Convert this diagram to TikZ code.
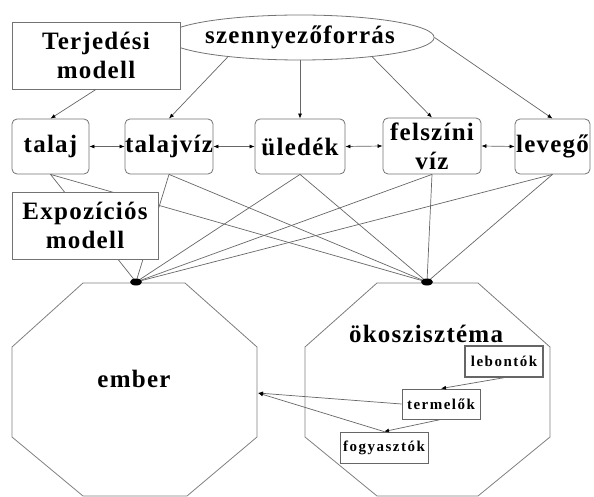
\documentclass[tikz,border=0pt]{standalone}
\usepackage{fontspec}
\setmainfont{Liberation Serif}[LetterSpace=5]
\usetikzlibrary{shapes.geometric,arrows.meta}
\newcommand{\bigtxt}{\bfseries\fontsize{25}{29}\selectfont}
\newcommand{\smalltxt}{\bfseries\addfontfeatures{LetterSpace=10}\fontsize{15}{17}\selectfont}
\begin{document}
\begin{tikzpicture}[x=1pt,y=-1pt,
  frame/.style={draw=black!55, line width=0.8pt, fill=white, inner sep=0pt,
    align=center, font=\bigtxt},
  rbox/.style={frame, rounded corners=5pt},
  sbox/.style={draw=black!60, line width=0.9pt, fill=white, inner sep=0pt,
    font=\smalltxt},
  link/.style={draw=black!60, line width=0.7pt},
  arr/.style={link, -{Latex[length=5pt,width=4pt,black]}},
  darr/.style={link, {Latex[length=5pt,width=4pt,black]}-{Latex[length=5pt,width=4pt,black]}},
  octa/.style={draw=black!50, line width=0.8pt, fill=white}]
\useasboundingbox (0,0) rectangle (594,497);

% receiving points on top of the two octagons
\coordinate (emdot) at (136,282);
\coordinate (okdot) at (427,282);

% source, models and the environmental compartments
\node[ellipse, draw=black!55, line width=0.8pt, fill=white, inner sep=0pt,
  minimum width=234, minimum height=45, font=\bigtxt] (src) at (300,37.5) {szennyezőforrás};
\node[frame, minimum width=168, minimum height=67] (terj) at (96,55.5) {Terjedési\\modell};

\node[rbox, minimum width=77, minimum height=55] (talaj) at (50.5,146.5) {talaj};
\node[rbox, minimum width=88, minimum height=55] (talajviz) at (169,146.5) {talajvíz};
\node[rbox, minimum width=90, minimum height=55] (uledek) at (300,146.5) {üledék};
\node[rbox, minimum width=98, minimum height=56] (felszini) at (432,146) {felszíni\\víz};
\node[rbox, minimum width=75, minimum height=55] (levego) at (552.5,146.5) {levegő};

% exposure paths from every compartment to the two receptors
\foreach \c in {talaj,talajviz,uledek,felszini,levego}{
  \draw[link] (\c.south) -- (emdot);
  \draw[link] (\c.south) -- (okdot);
}

\node[frame, minimum width=146, minimum height=67] (expo) at (85,225.5) {Expozíciós\\modell};

% transport arrows
\draw[arr] (terj.south) -- (talaj.north);
\draw[arr] (src.195) -- (talajviz.north);
\draw[arr] (src.south) -- (uledek.north);
\draw[arr] (src.-15) -- (felszini.north);
\draw[arr] (src.east) -- (levego.north);

\draw[darr] (talaj.east) -- (talajviz.west);
\draw[darr] (talajviz.east) -- (uledek.west);
\draw[darr] (uledek.east) -- (felszini.west);
\draw[darr] (felszini.east) -- (levego.west);

% receptors
\draw[octa] (83,283) -- (185,283) -- (257,347) -- (257,437) -- (187,496)
  -- (83,496) -- (12,437) -- (12,347) -- cycle;
\draw[octa] (377,283) -- (478,283) -- (550,347) -- (550,437) -- (478,496)
  -- (377,496) -- (305,437) -- (305,347) -- cycle;
\fill (emdot) ellipse [x radius=6, y radius=3.5];
\fill (okdot) ellipse [x radius=6, y radius=3.5];

\node[font=\bigtxt] (ember) at (134,379) {ember};
\node[font=\bigtxt] (oko) at (426,334) {ökoszisztéma};
\coordinate (emberin) at (258,393);

% food web inside the ecosystem
\node[sbox, minimum width=78, minimum height=31, line width=1.4pt] (lebontok) at (504,361.5) {lebontók};
\node[sbox, minimum width=78, minimum height=30] (termelok) at (441,404) {termelők};
\node[sbox, minimum width=88, minimum height=31] (fogyasztok) at (384,447.5) {fogyasztók};

\draw[arr] (lebontok.south) -- (termelok.north);
\draw[arr] (termelok.south) -- (fogyasztok.north);
\draw[arr] (termelok.west) -- (emberin);
\draw[arr] (fogyasztok.north) -- (emberin);
\end{tikzpicture}
\end{document}
